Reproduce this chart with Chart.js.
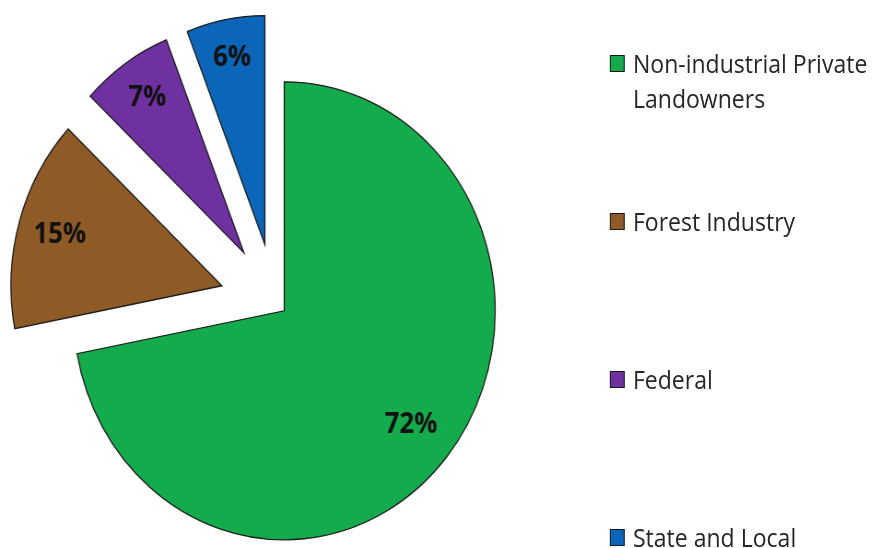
<!DOCTYPE html>
<html><head><meta charset="utf-8">
<script src="https://cdn.jsdelivr.net/npm/chart.js@4.4.1/dist/chart.umd.min.js"></script>
<style>
html,body{margin:0;padding:0;background:#fff;overflow:hidden;width:878px;height:548px;}
#wrap{position:absolute;left:0;top:0;width:953px;height:548px;transform:scaleX(0.9213);transform-origin:0 0;}
#pie{position:absolute;left:0;top:0;width:597px;height:548px;}
.txt{position:absolute;font-family:"Open Sans",sans-serif;font-size:25px;line-height:35px;color:#262626;white-space:nowrap;}
.box{position:absolute;width:14px;height:15px;border:1.5px solid #1a1a1a;}
</style></head>
<body>
<div id="wrap">
  <div id="pie"><canvas id="c" width="597" height="548"></canvas></div>
  <div id="legend"></div>
</div>
<script>
const categories = ["Non-industrial Private Landowners", "Forest Industry", "Federal", "State and Local"];
const legendLines = [["Non-industrial Private", "Landowners"], ["Forest Industry"], ["Federal"], ["State and Local"]];
const shares = [72, 15, 7, 6];
const colors = ["#13AB4B", "#8E5B27", "#7031A0", "#0B65B8"];
const explode = [13, 60, 60, 59];
const labelDepth = [0.78, 0.80, 0.815, 0.83];

// HTML legend built from the arrays
const legend = document.getElementById('legend');
categories.forEach((c, i) => {
  const top = 55 + i * 158;
  const b = document.createElement('div');
  b.className = 'box';
  b.style.left = '662px'; b.style.top = top + 'px';
  b.style.background = colors[i];
  legend.appendChild(b);
  const t = document.createElement('div');
  t.className = 'txt';
  t.style.left = '687px'; t.style.top = (top - 9) + 'px';
  t.innerHTML = legendLines[i].join('<br>');
  legend.appendChild(t);
});

const explodePlugin = {
  id: 'explode',
  beforeDatasetDraw(chart, args) {
    const ctx = chart.ctx;
    args.meta.data.forEach((arc, i) => {
      const mid = (arc.startAngle + arc.endAngle) / 2;
      ctx.save();
      ctx.translate(Math.cos(mid) * explode[i], Math.sin(mid) * explode[i]);
      arc.draw(ctx);
      ctx.restore();
    });
    return false;
  },
  afterDatasetsDraw(chart) {
    const ctx = chart.ctx;
    const meta = chart.getDatasetMeta(0);
    ctx.save();
    ctx.font = 'bold 28px "Open Sans"';
    ctx.fillStyle = '#111';
    ctx.textAlign = 'center';
    ctx.textBaseline = 'middle';
    meta.data.forEach((arc, i) => {
      const mid = (arc.startAngle + arc.endAngle) / 2;
      const r = arc.outerRadius * labelDepth[i] + explode[i];
      ctx.fillText(shares[i] + '%', arc.x + Math.cos(mid) * r, arc.y + Math.sin(mid) * r);
    });
    ctx.restore();
  }
};

new Chart(document.getElementById('c'), {
  type: 'pie',
  data: {
    labels: categories,
    datasets: [{
      data: shares,
      backgroundColor: colors,
      borderColor: '#1c1c1c',
      borderWidth: 1.3,
      borderJoinStyle: 'miter',
      clip: false
    }]
  },
  options: {
    responsive: false,
    animation: false,
    radius: 229,
    layout: { padding: { left: 0, right: 0, top: 57, bottom: 0 } },
    plugins: { legend: { display: false }, tooltip: { enabled: false } }
  },
  plugins: [explodePlugin]
});
</script>
</body></html>
